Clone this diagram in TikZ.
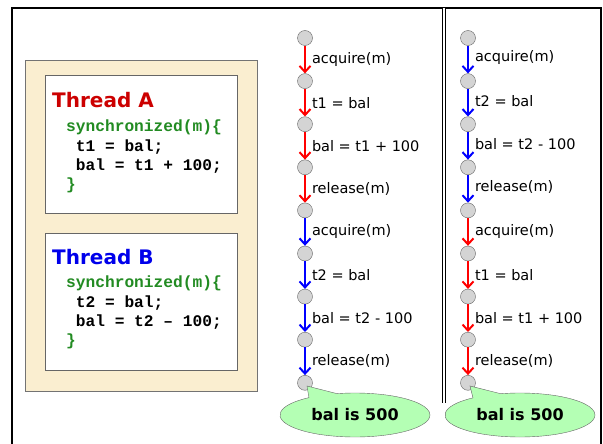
\documentclass[tikz,border=0pt]{standalone}
\usepackage{fontspec}
\setmainfont{DejaVu Sans}
\setmonofont{Liberation Mono}
\usetikzlibrary{arrows.meta,shapes.callouts}

\definecolor{paper}{RGB}{250,238,208}
\definecolor{codegreen}{RGB}{34,139,34}
\definecolor{titlered}{RGB}{204,0,0}
\definecolor{titleblue}{RGB}{0,0,235}
\definecolor{bubblegreen}{RGB}{180,255,180}

\tikzset{
  state/.style={circle, draw=black!60, fill=black!17, minimum size=15pt, inner sep=0pt},
  ev/.style={line width=2pt, -{Straight Barb[length=6pt,width=11pt,line width=2pt]}},
  evA/.style={ev, red},
  evB/.style={ev, blue},
  lab/.style={anchor=west, text=black, inner sep=1pt, xshift=5pt, font=\fontsize{14.5}{16}\selectfont},
  title/.style={anchor=west, inner sep=0pt, font=\bfseries\fontsize{20}{22}\selectfont},
  code/.style={anchor=north west, align=left, inner sep=0pt, font=\ttfamily\bfseries\fontsize{16.2}{19.2}\selectfont},
  bubble/.style={ellipse callout, draw=black!60, fill=bubblegreen, minimum width=150pt, minimum height=44pt, inner sep=0pt, callout pointer arc=24, font=\bfseries\fontsize{16}{18}\selectfont}
}

\begin{document}
\begin{tikzpicture}[x=1pt, y=-1pt]
    \useasboundingbox (0,0) rectangle (603,444);

    \draw[line width=2pt] (12,444) -- (12,8) -- (601,8) -- (601,444);
    \draw[double, double distance=2pt, line width=1pt] (444,8) -- (444,403);

    \draw[draw=black!55, fill=paper] (25,60) rectangle (257,391);
    \draw[draw=black!60, fill=white] (45,75) rectangle (237,213);
    \draw[draw=black!60, fill=white] (45,233) rectangle (237,370);

    \node[title, text=titlered](titleA) at (52,100){Thread A};
    \node[code](codeA) at (66,120){{\color{codegreen}synchronized(m)\{}\\ ~t1 = bal;\\ ~bal = t1 + 100;\\ {\color{codegreen}\}}};

    \node[title, text=titleblue](titleB) at (52,257){Thread B};
    \node[code](codeB) at (66,276){{\color{codegreen}synchronized(m)\{}\\ ~t2 = bal;\\ ~bal = t2 – 100;\\ {\color{codegreen}\}}};

    \node[state](p0) at (305, 38.0){};
    \node[state](p1) at (305, 81.1){};
    \node[state](p2) at (305,124.2){};
    \node[state](p3) at (305,167.3){};
    \node[state](p4) at (305,210.4){};
    \node[state](p5) at (305,253.5){};
    \node[state](p6) at (305,296.6){};
    \node[state](p7) at (305,339.7){};
    \node[state](p8) at (305,382.8){};

    \node[state](q0) at (468, 38.0){};
    \node[state](q1) at (468, 81.1){};
    \node[state](q2) at (468,124.2){};
    \node[state](q3) at (468,167.3){};
    \node[state](q4) at (468,210.4){};
    \node[state](q5) at (468,253.5){};
    \node[state](q6) at (468,296.6){};
    \node[state](q7) at (468,339.7){};
    \node[state](q8) at (468,382.8){};

    \draw[evA] (p0) -- node[lab]{acquire(m)} (p1);
    \draw[evA] (p1) -- node[lab]{t1 = bal} (p2);
    \draw[evA] (p2) -- node[lab]{bal = t1 + 100} (p3);
    \draw[evA] (p3) -- node[lab]{release(m)} (p4);
    \draw[evB] (p4) -- node[lab]{acquire(m)} (p5);
    \draw[evB] (p5) -- node[lab]{t2 = bal} (p6);
    \draw[evB] (p6) -- node[lab]{bal = t2 - 100} (p7);
    \draw[evB] (p7) -- node[lab]{release(m)} (p8);

    \draw[evB] (q0) -- node[lab, yshift=2pt]{acquire(m)} (q1);
    \draw[evB] (q1) -- node[lab, yshift=2pt]{t2 = bal} (q2);
    \draw[evB] (q2) -- node[lab, yshift=2pt]{bal = t2 - 100} (q3);
    \draw[evB] (q3) -- node[lab, yshift=2pt]{release(m)} (q4);
    \draw[evA] (q4) -- node[lab]{acquire(m)} (q5);
    \draw[evA] (q5) -- node[lab]{t1 = bal} (q6);
    \draw[evA] (q6) -- node[lab]{bal = t1 + 100} (q7);
    \draw[evA] (q7) -- node[lab]{release(m)} (q8);

    \coordinate (tipP) at (307,386);
    \coordinate (tipQ) at (470,386);
    \node[bubble, callout absolute pointer={(tipP)}](endP) at (355,415){bal is 500};
    \node[bubble, callout absolute pointer={(tipQ)}](endQ) at (520,415){bal is 500};
\end{tikzpicture}
\end{document}
